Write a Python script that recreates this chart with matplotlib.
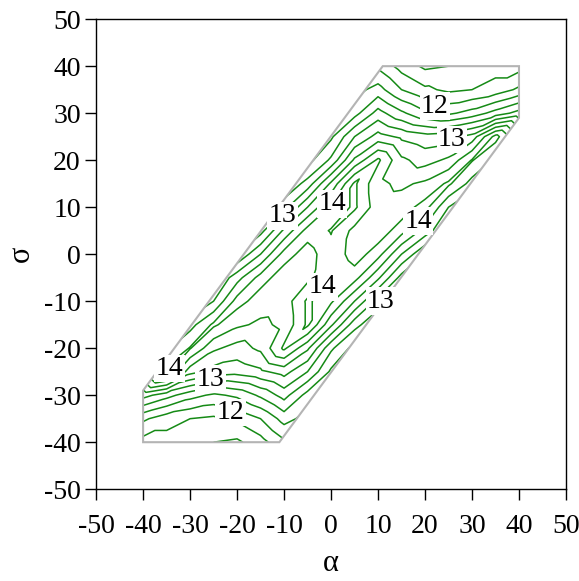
import numpy as np
import matplotlib
matplotlib.use("Agg")
import matplotlib.pyplot as plt
import matplotlib.tri as mtri
from matplotlib.patches import Polygon

plt.rcParams['font.family'] = ['Liberation Serif', 'DejaVu Serif']
plt.rcParams['axes.unicode_minus'] = False

# grid coordinates
alpha_vals = np.arange(-40, 45, 5)
sigma_vals = np.arange(-40, 45, 5)

# field values, one row per sigma (from -40 up to 40), columns alpha -40..40
row_m40 = [11.65, 11.65, 11.6, 11.5, 11.45, 11.65] + [11.95] * 11
row_m35 = [12.05, 11.85, 11.75, 11.7, 11.8, 12.0, 12.35, 12.15] + [12.1] * 9
row_m30 = [12.85, 12.6, 12.35, 12.2, 12.3, 12.55, 12.85, 12.4] + [12.1] * 9
row_m25 = [13.5, 14.1, 13.35, 13.15, 13.1, 13.2, 13.35, 13.0, 12.45] + [12.35] * 8
row_m20 = [13.5, 13.7, 14.02, 13.55, 13.4, 13.55, 14.05, 13.55, 12.8] + [12.4] * 8
row_m15 = [13.5, 13.5, 13.65, 14.05, 13.8, 13.7, 13.8, 14.3, 13.55, 12.85] + [12.5] * 7
row_m10 = [13.2, 13.2, 13.2, 13.5, 14.1, 13.88, 13.85, 14.3, 14.05, 13.5, 12.9] + [12.6] * 6
row_m05 = [13.2] * 4 + [13.65, 14.1, 13.88, 13.92, 14.27, 14.1, 13.55, 12.9] + [12.75] * 5
row_000 = [13.0] * 5 + [13.5, 14.1, 13.9, 14.15, 13.9, 14.1, 13.5] + [13.0] * 5
row_p05 = [12.75] * 5 + [12.9, 13.55, 14.1, 14.27, 13.92, 13.88, 14.1, 13.65] + [13.2] * 4
row_p10 = [12.6] * 6 + [12.9, 13.5, 14.05, 14.3, 13.85, 13.88, 14.1, 13.5, 13.2, 13.2, 13.2]
row_p15 = [12.5] * 7 + [12.85, 13.55, 14.3, 13.8, 13.7, 13.8, 14.05, 13.65, 13.5, 13.5]
row_p20 = [12.4] * 8 + [12.8, 13.55, 14.05, 13.55, 13.4, 13.55, 14.02, 13.7, 13.5]
row_p25 = [12.35] * 8 + [12.45, 13.0, 13.35, 13.2, 13.1, 13.15, 13.35, 14.1, 13.5]
row_p30 = [12.1] * 9 + [12.4, 12.85, 12.55, 12.3, 12.2, 12.35, 12.6, 12.85]
row_p35 = [12.1] * 9 + [12.15, 12.35, 12.0, 11.8, 11.7, 11.75, 11.85, 12.05]
row_p40 = [11.95] * 11 + [11.65, 11.45, 11.5, 11.6, 11.65, 11.65]

z_rows = [row_m40, row_m35, row_m30, row_m25, row_m20, row_m15, row_m10, row_m05,
          row_000, row_p05, row_p10, row_p15, row_p20, row_p25, row_p30, row_p35, row_p40]

# data domain (hexagon in alpha-sigma plane)
domain_alpha = [-40, -11, 40, 40, 11, -40]
domain_sigma = [-40, -40, 29, 40, 40, -29]

contour_levels = [11.5, 11.75, 12.0, 12.25, 12.5, 12.75, 13.0, 13.25,
                  13.5, 13.75, 14.0, 14.25]

# contour labels
label_values = [12, 12, 13, 13, 13, 13, 14, 14, 14, 14]
label_alpha = [22.1, -21.4, 25.7, -10.3, 10.6, -25.7, 0.2, 18.5, -1.8, -34.4]
label_sigma = [31.5, -33.7, 24.4, 8.2, -10.0, -26.6, 10.7, 7.0, -6.9, -24.3]

tick_vals = list(range(-50, 51, 10))

green = '#158a15'

fig = plt.figure(figsize=(5.79, 5.81), dpi=100)
ax = fig.add_axes([0.166, 0.158, 0.8115, 0.809])

A, S = np.meshgrid(alpha_vals, sigma_vals)
Z = np.array(z_rows)

# triangulate the grid, splitting each cell along its rising diagonal
nx, ny = len(alpha_vals), len(sigma_vals)
tris = []
for j in range(ny - 1):
    for i in range(nx - 1):
        p00 = j * nx + i
        p10 = p00 + 1
        p01 = p00 + nx
        p11 = p01 + 1
        tris.append([p00, p10, p11])
        tris.append([p00, p11, p01])
triang = mtri.Triangulation(A.ravel(), S.ravel(), np.array(tris))

hexagon = Polygon(np.column_stack([domain_alpha, domain_sigma]), closed=True,
                  facecolor='none', edgecolor='#b4b4b4', linewidth=1.5, zorder=3)
ax.add_patch(hexagon)

cs = ax.tricontour(triang, Z.ravel(), levels=contour_levels, colors=green,
                   linewidths=1.1, zorder=2)
clip = Polygon(np.column_stack([domain_alpha, domain_sigma]), closed=True,
               transform=ax.transData)
cs.set_clip_path(clip)

for v, la, ls in zip(label_values, label_alpha, label_sigma):
    ax.text(la, ls, str(v), fontsize=20, ha='center', va='center', zorder=4,
            bbox=dict(facecolor='white', edgecolor='none', pad=1.0))

ax.set_xlim(-50, 50)
ax.set_ylim(-50, 50)
ax.set_xticks(tick_vals)
ax.set_yticks(tick_vals)
ax.set_xticklabels([str(t) for t in tick_vals])
ax.set_yticklabels([str(t) for t in tick_vals])
ax.tick_params(direction='out', length=8, width=1, labelsize=20,
               top=False, right=False)
ax.tick_params(axis='x', pad=10)
ax.tick_params(axis='y', pad=3)
for sp in ax.spines.values():
    sp.set_linewidth(1.0)
ax.set_xlabel('α', fontsize=22, labelpad=7)
ax.set_ylabel('σ', fontsize=22, labelpad=6)

fig.savefig('out.png', dpi=100)
